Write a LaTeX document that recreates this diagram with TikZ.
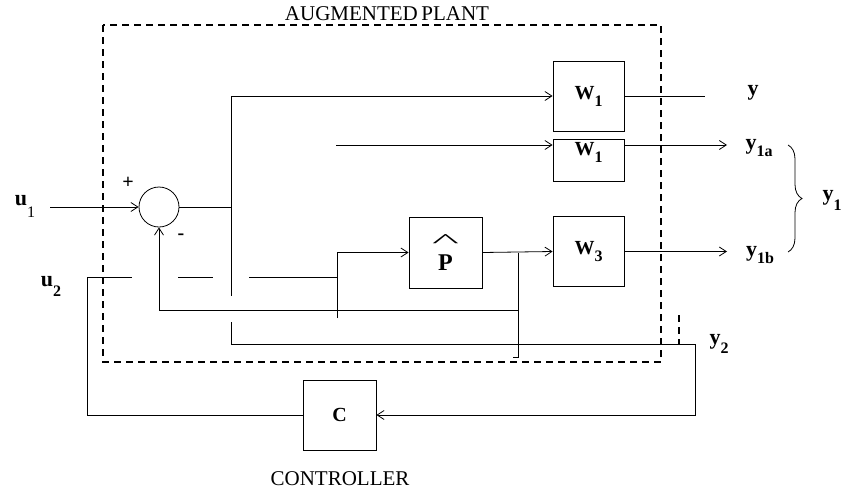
\documentclass[tikz,border=0pt]{standalone}
\usepackage{fontspec}
\setmainfont{Liberation Serif}
\usetikzlibrary{arrows.meta,decorations.pathreplacing}
\newcommand{\dn}[2][7pt]{\raisebox{-#1}{\fontsize{16}{16}\selectfont #2}}
\tikzset{
  blk/.style={draw, minimum width=71pt, minimum height=70pt, inner sep=0pt,
    font=\fontsize{20}{22}\selectfont\bfseries},
  sig/.style={-{Straight Barb[length=7pt,width=9pt]}},
  lbl/.style={font=\fontsize{22}{24}\selectfont\bfseries, inner sep=0pt},
  titletext/.style={font=\fontsize{21}{24}\selectfont, inner sep=0pt},
  border/.style={line width=1.2pt, dash pattern=on 7pt off 5pt}
}
\begin{document}
\begin{tikzpicture}[x=1pt,y=-1pt,line width=0.8pt]
  \useasboundingbox (0,0) rectangle (843,493);
  % Augmented plant
  \draw[border] (103,25) rectangle (661,362);
  \draw[border] (679,315) -- (679,344);
  \node[titletext] (plant) at (387,14) {AUGMENTED\,PLANT};
  % Blocks
  \node[circle, draw, minimum size=40pt, inner sep=0pt] (sum) at (159,207) {};
  \node[blk] (w1a) at (588.5,96) {W\dn{1}};
  \node[blk, minimum height=42pt,
    label={[blk, draw=none, minimum size=0pt, anchor=north, yshift=-3pt]north:W\dn{1}}]
    (w1b) at (588.5,160) {};
  \node[blk] (w3) at (588.5,251.5) {W\dn{3}};
  \node[blk, minimum width=73pt, minimum height=71pt, align=center]
    (phat) at (445.5,252.5)
    {{\fontsize{44}{44}\selectfont\mdseries\scalebox{1.3}[0.45]{\textasciicircum}}\\[1pt]
     {\fontsize{24}{24}\selectfont P}};
  \node[blk, minimum width=73pt] (ctrl) at (339.5,415) {C};
  \node[titletext] (ctrllbl) at (340,479) {CONTROLLER};
  % Junctions and free ends
  \coordinate (u1in) at (50,207);
  \coordinate (ja) at (231,207);
  \coordinate (w1in) at (336,145);
  \coordinate (yout) at (705,96);
  \coordinate (y1a) at (727,145);
  \coordinate (y1b) at (727,251.5);
  \coordinate (jp) at (518,252.5);
  \coordinate (fb) at (518,310);
  \coordinate (y2j) at (679,344);
  \coordinate (y2c) at (695,344);
  \coordinate (u2c) at (87,277);
  \coordinate (pin) at (337,318);
  % Forward paths
  \draw[sig] (u1in) -- (sum.west);
  \draw (sum.east) -- (ja);
  \draw[sig] (ja) |- (w1a.west);
  \draw[sig] (w1in) -- (w1in -| w1b.west);
  \draw (w1a.east) -- (yout);
  \draw[sig] (w1in -| w1b.east) -- (y1a);
  \draw[sig] (w3.east) -- (y1b);
  \draw[sig] (phat.east) -- (w3.west);
  % Feedback and measurement
  \draw (jp) -- (518,357) -- (513,357);
  \draw[sig] (fb) -| (sum.south);
  \draw (ja) -- (231,296);
  \draw (231,322) -- (231,344) -- (y2j);
  \draw[sig] (y2j) -- (y2c) |- (ctrl.east);
  % Control input
  \draw (ctrl.west) -| (u2c) -- (132,277);
  \draw (178,277) -- (213,277);
  \draw (249,277) -- (337,277);
  \draw[sig] (pin) |- (phat.west);
  % Labels
  \node[lbl, font=\fontsize{20}{22}\selectfont\bfseries] (plus) at (128,183) {+};
  \node[lbl, font=\fontsize{20}{22}\selectfont\bfseries] (minus) at (181,237) {-};
  \node[lbl] (u1lbl) at (25,206) {u\dn[12pt]{\mdseries 1}};
  \node[lbl] (u2lbl) at (51,286) {u\dn[10pt]{2}};
  \node[lbl] (ylbl) at (753,93) {y};
  \node[lbl] (y1albl) at (759,148) {y\dn{1a}};
  \node[lbl] (y1blbl) at (760,255) {y\dn{1b}};
  \node[lbl] (y1lbl) at (832,200) {y\dn[10pt]{1}};
  \node[lbl] (y2lbl) at (719,344) {y\dn[9pt]{2}};
  \draw[decorate, decoration={brace, amplitude=14pt}] (788,145) -- (788,252);
\end{tikzpicture}
\end{document}
